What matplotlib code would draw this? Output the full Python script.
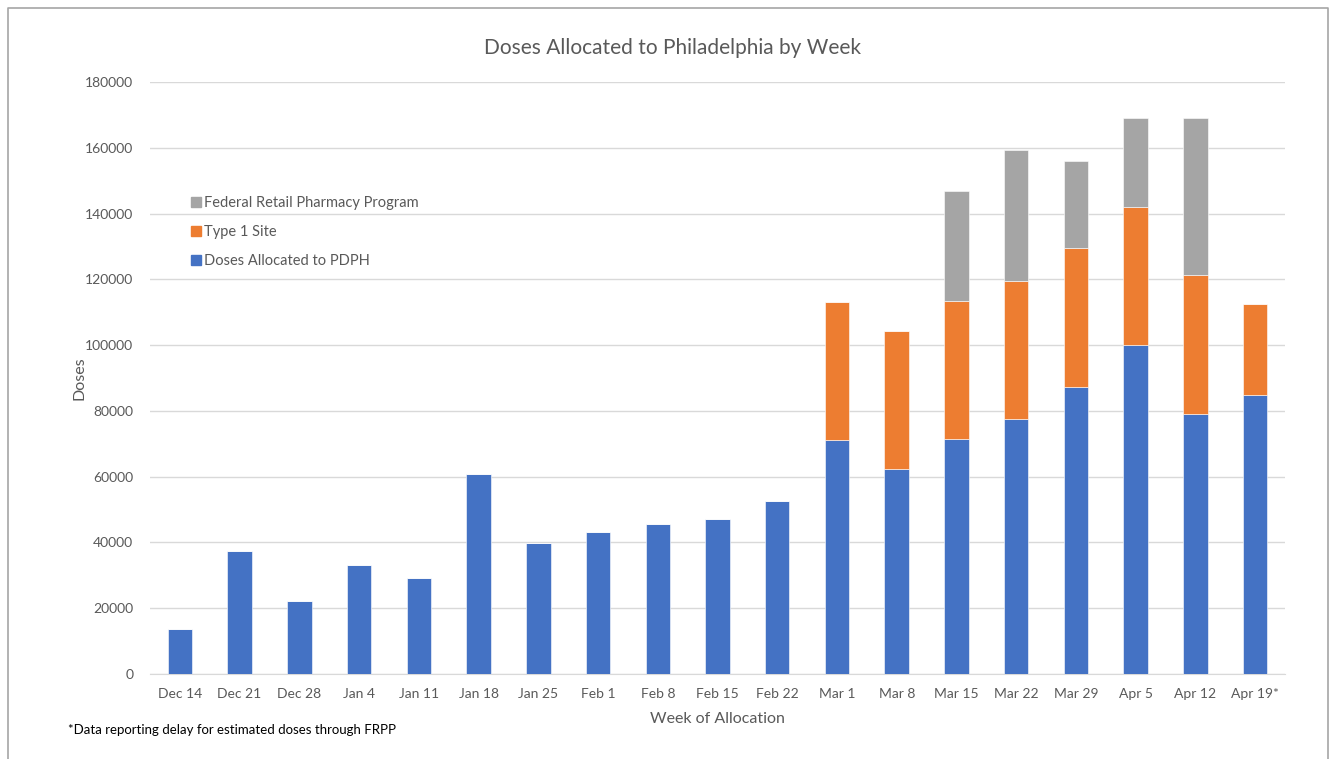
import numpy as np
import matplotlib.pyplot as plt
from matplotlib.lines import Line2D

# =============================================================================
# DATA
# =============================================================================
weeks = ["Dec 14", "Dec 21", "Dec 28", "Jan 4", "Jan 11", "Jan 18", "Jan 25",
         "Feb 1", "Feb 8", "Feb 15", "Feb 22", "Mar 1", "Mar 8", "Mar 15",
         "Mar 22", "Mar 29", "Apr 5", "Apr 12", "Apr 19*"]

pdph = [13700, 37500, 22300, 33000, 29200, 60900, 39800,
        43200, 45500, 47000, 52600, 71300, 62400, 71600,
        77600, 87200, 99900, 79100, 84700]

type1 = [0, 0, 0, 0, 0, 0, 0,
         0, 0, 0, 0, 41800, 41900, 41900,
         41800, 42200, 42000, 42200, 27900]

frpp = [0, 0, 0, 0, 0, 0, 0,
        0, 0, 0, 0, 0, 0, 33500,
        39800, 26500, 27100, 47700, 0]

series_names = ["Doses Allocated to PDPH", "Type 1 Site", "Federal Retail Pharmacy Program"]
colors = ["#4472C4", "#ED7D31", "#A5A5A5"]

# =============================================================================
# PLOT
# =============================================================================
plt.rcParams["font.family"] = ["Lato", "DejaVu Sans"]
txt = "#595959"

fig = plt.figure(figsize=(13.3, 7.59), dpi=100)
ax = fig.add_axes([150 / 1330, 1 - 674 / 759, 1135 / 1330, 592 / 759])

x = np.arange(len(weeks))
pdph = np.array(pdph)
type1 = np.array(type1)
frpp = np.array(frpp)

w = 0.41
ax.bar(x, pdph, w, color=colors[0], edgecolor="white", linewidth=0.4, zorder=3)
ax.bar(x, type1, w, bottom=pdph, color=colors[1], edgecolor="white", linewidth=0.4, zorder=3)
ax.bar(x, frpp, w, bottom=pdph + type1, color=colors[2], edgecolor="white", linewidth=0.4, zorder=3)

ax.set_xlim(-0.5, len(weeks) - 0.5)
ax.set_ylim(0, 180000)
ax.set_yticks(np.arange(0, 180001, 20000))
ax.set_yticklabels([str(v) for v in range(0, 180001, 20000)], fontsize=10, color=txt)
ax.set_xticks(x)
ax.set_xticklabels(weeks, fontsize=10, color=txt)
ax.tick_params(axis="both", length=0)
ax.tick_params(axis="y", pad=12)
ax.tick_params(axis="x", pad=10)
ax.grid(axis="y", color="#D9D9D9", linewidth=1, zorder=0)
for s in ["top", "right", "left"]:
    ax.spines[s].set_visible(False)
ax.spines["bottom"].set_color("#D9D9D9")

ax.set_xlabel("Week of Allocation", fontsize=11.5, color=txt, labelpad=9)
ax.set_ylabel("Doses", fontsize=11.5, color=txt, labelpad=-1)

fig.text(673 / 1330, 1 - 48 / 759, "Doses Allocated to Philadelphia by Week",
         ha="center", va="center", fontsize=15, color=txt)
fig.text(68 / 1330, 1 - 730 / 759, "*Data reporting delay for estimated doses through FRPP",
         ha="left", va="center", fontsize=9.5, color="black")

handles = [Line2D([], [], marker="s", linestyle="none", markersize=7,
                  markerfacecolor=c, markeredgecolor=c) for c in colors[::-1]]
leg = ax.legend(handles, series_names[::-1], loc="upper left",
                bbox_to_anchor=(33 / 1135, (674 - 190) / 592), frameon=False,
                fontsize=10.5, handletextpad=0.05, labelspacing=1.05,
                handlelength=1.0, borderaxespad=0)
for t in leg.get_texts():
    t.set_color(txt)

# chart frame (left, top, right)
fig.add_artist(Line2D([8 / 1330, 8 / 1330, 1328 / 1330, 1328 / 1330],
                      [0, 1 - 8 / 759, 1 - 8 / 759, 0],
                      transform=fig.transFigure, color="#A6A6A6", linewidth=1.2))

fig.savefig("out.png", dpi=100)
